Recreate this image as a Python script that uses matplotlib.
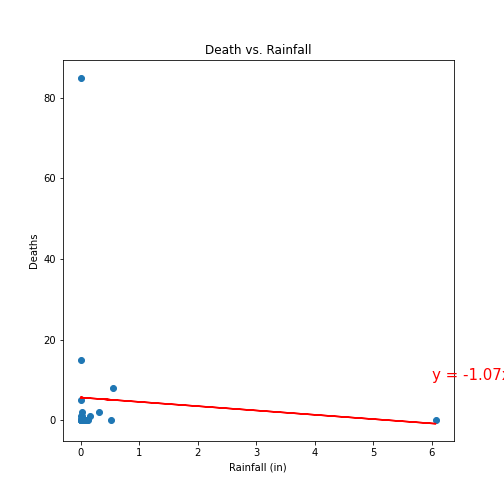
import numpy as np
import matplotlib.pyplot as plt

rainfall = [0.0, 0.01, 0.01, 0.55, 0.32, 0.52, 6.07, 0.15, 0.02, 0.0, 0.0, 0.03, 0.06, 0.1, 0.12, 0.0,
            0.02, 0.08, 0.0, 0.01, 0.04, 0.0, 0.05]
deaths = [85, 15, 5, 8, 2, 0, 0, 1, 2, 1, 0, 0, 0, 0, 0, 0, 1, 0, 0, 0, 0, 0, 0]

slope, intercept = np.polyfit(rainfall, deaths, 1)
fit = np.array(rainfall) * slope + intercept

fig, ax = plt.subplots(figsize=(7, 7), dpi=72)
fig.subplots_adjust(left=0.125, right=0.9, top=0.88, bottom=0.125)
ax.scatter(rainfall, deaths)
ax.plot(rainfall, fit, "r-")
ax.annotate(f"y = {slope:.2f}x + {intercept:.2f}", (6, 10), fontsize=15, color="red")
ax.set_title("Death vs. Rainfall")
ax.set_xlabel("Rainfall (in)")
ax.set_ylabel("Deaths")
plt.savefig("out.png")
